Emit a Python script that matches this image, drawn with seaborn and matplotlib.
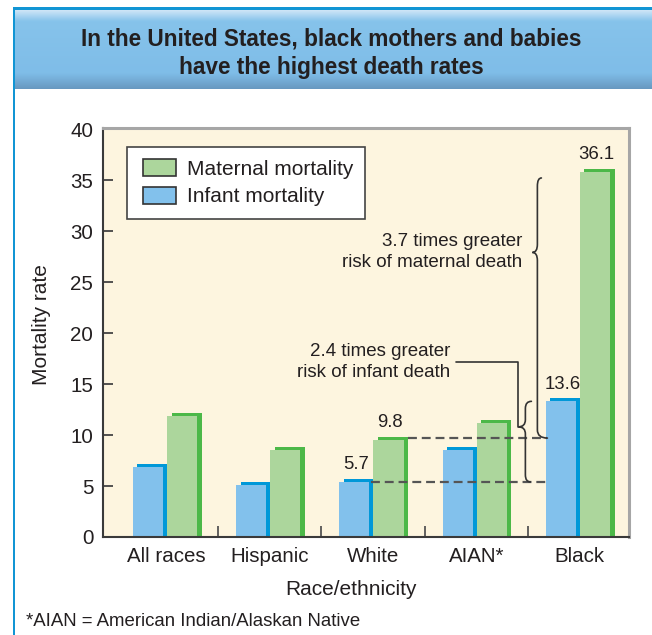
import numpy as np
import pandas as pd
import matplotlib
matplotlib.use("Agg")
import matplotlib.pyplot as plt
import matplotlib.transforms as mtransforms
from matplotlib.patches import Rectangle, Patch, PathPatch
from matplotlib.path import Path
from matplotlib.legend_handler import HandlerPatch
import seaborn as sns

# ---- data -------------------------------------------------------------
races = ["All races", "Hispanic", "White", "AIAN*", "Black"]
infant_rate = [7.2, 5.4, 5.7, 8.8, 13.6]
maternal_rate = [12.2, 8.8, 9.8, 11.5, 36.1]
measures = ["Infant mortality", "Maternal mortality"]
y_ticks = [0, 5, 10, 15, 20, 25, 30, 35, 40]

title_lines = ["In the United States, black mothers and babies",
               "have the highest death rates"]
footnote = "*AIAN = American Indian/Alaskan Native"

LIGHT = {"Infant mortality": "#82C1EC", "Maternal mortality": "#ACD69C"}
DARK = {"Infant mortality": "#0098D8", "Maternal mortality": "#4CB848"}
TEXT = "#231F20"

df = pd.DataFrame({
    "race": races * 2,
    "measure": [measures[0]] * len(races) + [measures[1]] * len(races),
    "rate": infant_rate + maternal_rate,
})

sns.set_theme(style="white")
plt.rcParams["font.family"] = ["Liberation Sans", "DejaVu Sans"]

W, H, DPI = 652, 635, 100
fig = plt.figure(figsize=(W / DPI, H / DPI), dpi=DPI)
fig.patch.set_facecolor("white")

# ---- frame and title band (pixel coordinates) ---------------------------
bg = fig.add_axes([0, 0, 1, 1], zorder=-10)
bg.set_xlim(0, W)
bg.set_ylim(H, 0)
bg.axis("off")

stops = [(0.00, "#CFE6F7"), (0.14, "#86C3EB"), (0.80, "#7FBDE8"), (1.00, "#6898C0")]
n = 200
pos = np.linspace(0, 1, n)
sp = [s[0] for s in stops]
rgb = np.array([matplotlib.colors.to_rgb(s[1]) for s in stops])
grad = np.stack([np.interp(pos, sp, rgb[:, k]) for k in range(3)], axis=1)
bg.imshow(grad[:, None, :], extent=(15, W, 89, 10), aspect="auto",
          interpolation="bilinear", origin="upper")
bg.add_patch(Rectangle((13, 7), W - 13, 3, color="#1195D4", lw=0))
bg.add_patch(Rectangle((12.5, 7), 2.5, H - 7, color="#1195D4", lw=0))

for i, line in enumerate(title_lines):
    fig.text(331 / W, 1 - (39 + 28.5 * i) / H, line, ha="center", va="center",
             fontsize=16.3, fontweight="bold", color=TEXT)

fig.text(26 / W, 1 - 621 / H, footnote, ha="left", va="center",
         fontsize=13.4, color=TEXT)

# ---- main axes ----------------------------------------------------------
ax = fig.add_axes([103 / W, 1 - 537 / H, (629 - 103) / W, (537 - 128) / H])
ax.set_facecolor("#FDF5DF")

bar_kw = dict(data=df, x="race", y="rate", hue="measure", order=races,
              hue_order=measures, saturation=1, width=0.66, gap=0.118,
              errorbar=None, legend=False, linewidth=0, ax=ax)

# darker "edge" bars sit behind, nudged right; lighter faces on top
sns.barplot(palette=DARK, **bar_kw)
n_dark = len(ax.patches)
sns.barplot(palette=LIGHT, **bar_kw)

dark_shift = mtransforms.offset_copy(ax.transData, fig=fig, x=3.0, y=0.0, units="dots")
light_shift = mtransforms.offset_copy(ax.transData, fig=fig, x=-1.5, y=-3.0, units="dots")
for i, p in enumerate(ax.patches):
    p.set_transform(dark_shift if i < n_dark else light_shift)


def find_bar(race, measure, light=True):
    ci = 0 if measure == measures[0] else 1
    cont = ax.containers[ci + (2 if light else 0)]
    target = races.index(race)
    for p in cont.patches:
        if round(p.get_x() + p.get_width() / 2) == target:
            return p


ax.set_xlim(-0.615, 4.48)
ax.set_ylim(0, 40.1)
ax.set_yticks(y_ticks)
ax.set_xticks(range(len(races)), races)
ax.set_xticks([k + 0.5 for k in range(len(races) - 1)], minor=True)

ax.tick_params(axis="y", which="major", left=True, direction="in", length=7,
               width=1.3, color="#444444", labelsize=14.8, pad=7, labelcolor=TEXT)
ax.tick_params(axis="x", which="major", bottom=True, length=0, labelsize=14.8,
               pad=7.5, labelcolor=TEXT)
ax.tick_params(axis="x", which="minor", bottom=True, direction="in", length=8,
               width=1.3, color="#555555")

for s in ["left", "bottom"]:
    ax.spines[s].set_color("#3A3A3A")
    ax.spines[s].set_linewidth(1.5)
for s in ["top", "right"]:
    ax.spines[s].set_color("#A6A6A6")
    ax.spines[s].set_linewidth(2.2)

ax.set_ylabel("Mortality rate", fontsize=15, color=TEXT)
ax.yaxis.set_label_coords(-0.098, 0.52)
ax.set_xlabel("Race/ethnicity", fontsize=15, color=TEXT)
ax.xaxis.set_label_coords(0.471, -0.105)


# legend swatches sit a little in from the frame's left edge
def inset_swatch(legend, orig_handle, xdescent, ydescent, width, height, fontsize):
    inset = 3.0
    return Rectangle((-xdescent + inset, -ydescent), width - inset, height)


handles = [Patch(facecolor=LIGHT[m], edgecolor="#333333", linewidth=1.2, label=m)
           for m in measures[::-1]]
leg = ax.legend(handles=handles, loc="upper left", bbox_to_anchor=(0.0456, 0.9535),
                borderaxespad=0, frameon=True, fancybox=False, edgecolor="#444444",
                facecolor="white", framealpha=1, fontsize=15, handlelength=1.75,
                handleheight=0.85, handletextpad=0.55, labelspacing=0.4,
                borderpad=0.58,
                handler_map={Patch: HandlerPatch(patch_func=inset_swatch)})
leg.get_frame().set_linewidth(1.2)
for t in leg.get_texts():
    t.set_color(TEXT)

# value labels for the highlighted groups
for race in ["White", "Black"]:
    for m, vals in zip(measures, [infant_rate, maternal_rate]):
        v = vals[races.index(race)]
        p = find_bar(race, m)
        ax.annotate(f"{v:.1f}", xy=(p.get_x() + p.get_width() / 2, v),
                    xytext=(0, 4), textcoords="offset points", ha="center",
                    va="bottom", fontsize=13.3, color=TEXT)

# dashed reference lines from White to Black
w_inf = infant_rate[races.index("White")]
w_mat = maternal_rate[races.index("White")]
b_inf = infant_rate[races.index("Black")]
b_mat = maternal_rate[races.index("Black")]
black_left = find_bar("Black", measures[0]).get_x()
wi = find_bar("White", measures[0])
wm = find_bar("White", measures[1], light=False)
dash_kw = dict(color="#555555", lw=1.6, dashes=(4, 2.2), zorder=4)
ax.plot([wi.get_x() + wi.get_width(), black_left], [w_inf - 0.3, w_inf - 0.3], **dash_kw)
ax.plot([wm.get_x() + wm.get_width() + 0.03, black_left], [w_mat - 0.1, w_mat - 0.1], **dash_kw)


def brace(x, y_lo, y_hi, y_tip, tip_dx, end_lo, end_hi, curl):
    verts = [(x + end_hi, y_hi), (x, y_hi), (x, y_hi - curl),
             (x, y_tip + curl), (x, y_tip), (x - tip_dx, y_tip),
             (x, y_tip), (x, y_tip - curl),
             (x, y_lo + curl), (x, y_lo), (x + end_lo, y_lo)]
    codes = [Path.MOVETO, Path.CURVE3, Path.CURVE3, Path.LINETO, Path.CURVE3,
             Path.CURVE3, Path.CURVE3, Path.CURVE3, Path.LINETO, Path.CURVE3,
             Path.CURVE3]
    ax.add_patch(PathPatch(Path(verts, codes), fill=False, edgecolor="#333333",
                           lw=1.2, zorder=5, capstyle="round"))


px = 1 / 103.2  # one pixel in x data units

# maternal comparison
brace(black_left - 10 * px, w_mat - 0.1, b_mat - 0.9, 27.9, 5 * px, 10 * px, 4 * px, 0.8)
ax.text(black_left - 25 * px, 27.9, "3.7 times greater\nrisk of maternal death",
        ha="right", va="center", multialignment="right", fontsize=13.5, color=TEXT,
        linespacing=1.3)

# infant comparison
ix = black_left - 22 * px
brace(ix, w_inf - 0.3, b_inf - 0.3, 10.8, 7 * px, 5 * px, 6 * px, 0.7)
ax.plot([ix - 7 * px, ix - 7 * px, 2.80], [10.8, 17.2, 17.2], color="#333333",
        lw=1.2, zorder=5)
ax.text(2.75, 17.2, "2.4 times greater\nrisk of infant death", ha="right",
        va="center", multialignment="right", fontsize=13.5, color=TEXT,
        linespacing=1.3)

fig.savefig("out.png", dpi=DPI)
